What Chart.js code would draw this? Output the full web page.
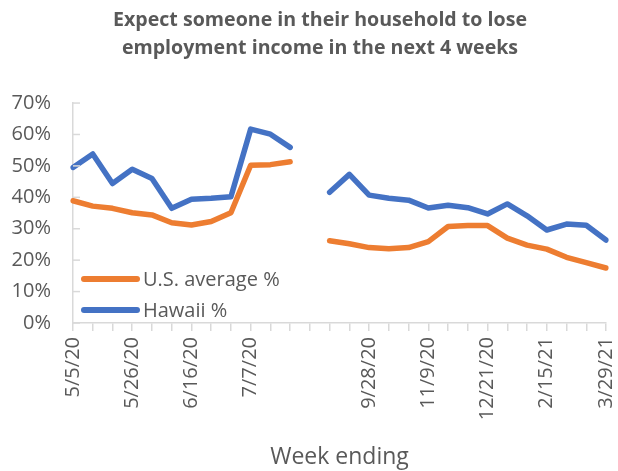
<!DOCTYPE html>
<html>
<head>
<meta charset="utf-8">
<script src="https://cdn.jsdelivr.net/npm/chart.js@4.4.1/dist/chart.umd.min.js"></script>
<style>
  html, body { margin: 0; padding: 0; background: #fff; }
  #wrap { width: 618px; height: 471px; }
</style>
</head>
<body>
<div id="wrap"><canvas id="chart"></canvas></div>
<script>
// week ending dates (blank = no survey week)
const weeks = [
    "5/5/20", "5/12/20", "5/19/20", "5/26/20", "6/2/20", "6/9/20", "6/16/20",
    "6/23/20", "6/30/20", "7/7/20", "7/14/20", "7/21/20", "",
    "8/31/20", "9/14/20", "9/28/20", "10/12/20", "10/26/20", "11/9/20", "11/23/20",
    "12/7/20", "12/21/20", "1/18/21", "2/1/21", "2/15/21", "3/1/21", "3/15/21", "3/29/21"
];

const usAverage = [
    38.9, 37.2, 36.5, 35.1, 34.4, 31.9, 31.2, 32.3, 35.1, 50.2, 50.4, 51.3, null,
    26.2, 25.2, 24.0, 23.6, 24.0, 25.9, 30.7, 31.0, 31.0, 27.0, 24.8, 23.5, 20.9, 19.2, 17.5
];
const hawaii = [
    49.5, 53.8, 44.4, 48.9, 46.0, 36.5, 39.4, 39.7, 40.2, 61.7, 60.1, 55.9, null,
    41.6, 47.3, 40.7, 39.7, 39.1, 36.6, 37.5, 36.7, 34.7, 37.9, 34.1, 29.6, 31.5, 31.1, 26.4
];

const yTicks = [0, 10, 20, 30, 40, 50, 60, 70];

const grey = "#595959";
const axisGrey = "#d9d9d9";
const font = "'Open Sans', 'DejaVu Sans', sans-serif";

// y-axis ticks point into the plot, legend sits inside the plot
const extras = {
    id: "extras",
    afterLayout(chart) {
        // let the y labels use the space left of the padding (title stays centred as in the original)
        const s = chart.scales.y;
        s.left = 0;
        s.width = s.right;
    },
    afterDraw(chart) {
        const ctx = chart.ctx;
        const area = chart.chartArea;
        const y = chart.scales.y;
        ctx.save();
        ctx.strokeStyle = axisGrey;
        ctx.lineWidth = 1.5;
        y.ticks.forEach(t => {
            const py = y.getPixelForValue(t.value);
            ctx.beginPath();
            ctx.moveTo(area.left, py);
            ctx.lineTo(area.left + 7, py);
            ctx.stroke();
        });

        const items = [chart.data.datasets[0], chart.data.datasets[1]];
        ctx.font = "20px " + font;
        ctx.textBaseline = "middle";
        ctx.textAlign = "left";
        items.forEach((ds, i) => {
            const ly = area.top + 176 + i * 31;
            ctx.strokeStyle = ds.borderColor;
            ctx.lineWidth = 6;
            ctx.lineCap = "round";
            ctx.beginPath();
            ctx.moveTo(area.left + 11, ly);
            ctx.lineTo(area.left + 64, ly);
            ctx.stroke();
            ctx.fillStyle = grey;
            ctx.fillText(ds.label, area.left + 70, ly + 1);
        });
        ctx.restore();
    }
};

new Chart(document.getElementById("chart"), {
    type: "line",
    data: {
        labels: weeks,
        datasets: [{
            label: "U.S. average %",
            data: usAverage,
            borderColor: "#ED7D31",
            backgroundColor: "#ED7D31"
        }, {
            label: "Hawaii %",
            data: hawaii,
            borderColor: "#4472C4",
            backgroundColor: "#4472C4"
        }]
    },
    options: {
        responsive: true,
        maintainAspectRatio: false,
        animation: false,
        spanGaps: false,
        layout: { padding: { left: 34, right: 12, top: 0, bottom: 0 } },
        elements: {
            line: { borderWidth: 5.5, tension: 0, borderCapStyle: "round", borderJoinStyle: "round" },
            point: { radius: 0, hoverRadius: 0 }
        },
        plugins: {
            legend: { display: false },
            tooltip: { enabled: false },
            title: {
                display: true,
                text: ["Expect someone in their household to lose", "employment income in the next 4 weeks"],
                color: grey,
                font: { family: font, size: 19.6, weight: "bold", lineHeight: 1.43 },
                padding: { top: 6, bottom: 41 }
            }
        },
        scales: {
            x: {
                type: "category",
                offset: false,
                afterFit: s => { s.height = 148; s.paddingLeft = 0; s.paddingRight = 0; },
                grid: { display: true, drawOnChartArea: false, tickLength: 8, color: axisGrey, lineWidth: 1.5 },
                border: { display: true, color: axisGrey, width: 1.5 },
                ticks: {
                    autoSkip: false,
                    minRotation: 90,
                    maxRotation: 90,
                    padding: 6,
                    color: grey,
                    font: { family: font, size: 20 },
                    callback: function (v, i) { return i % 3 === 0 ? this.getLabelForValue(v) : ""; }
                },
                title: {
                    display: true,
                    text: "Week ending",
                    color: grey,
                    font: { family: font, size: 23 },
                    padding: { top: 0, bottom: 0 }
                }
            },
            y: {
                min: yTicks[0],
                max: yTicks[yTicks.length - 1],
                afterFit: s => { s.width = 39; },
                afterBuildTicks: s => { s.ticks = yTicks.map(v => ({ value: v })); },
                grid: { display: false, drawTicks: false },
                border: { display: true, color: axisGrey, width: 1.5 },
                ticks: {
                    padding: 22,
                    color: grey,
                    font: { family: font, size: 20 },
                    callback: v => v + "%"
                }
            }
        }
    },
    plugins: [extras]
});
</script>
</body>
</html>
